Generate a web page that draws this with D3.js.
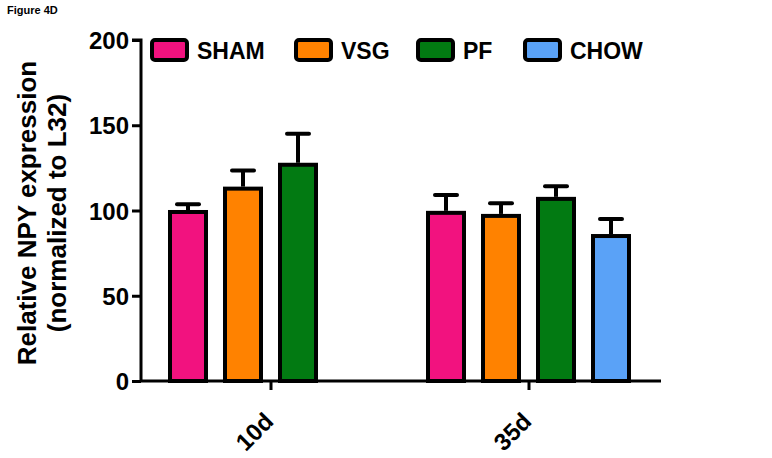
<!DOCTYPE html>
<html><head><meta charset="utf-8">
<script src="https://cdn.jsdelivr.net/npm/d3@7"></script>
<style>body{margin:0;background:#fff}svg{display:block}text{font-family:"Liberation Sans",Arial,sans-serif;font-weight:bold}</style>
</head><body>
<script>
const groups = ["10d", "35d"];
const series = ["SHAM", "VSG", "PF", "CHOW"];
const colors = ["#f2127f", "#ff8200", "#027a12", "#5aa2f7"];
const means10d = [100.3, 114, 128, null];
const errs10d = [3.4, 9.5, 17, null];
const means35d = [99.8, 98, 108, 86.2];
const errs35d = [9.3, 6.3, 6.2, 8.8];
const yTicks = [0, 50, 100, 150, 200];

const W = 772, H = 458;
const svg = d3.select("body").append("svg").attr("width", W).attr("height", H);

const y = d3.scaleLinear().domain([0, 200]).range([381, 40]);
const xg = d3.scalePoint().domain(groups).range([270.5, 528.5]);
const xs = d3.scaleBand().domain(series).range([-110, 110]).paddingInner(15/55).paddingOuter(7.5/55);

const data = [];
groups.forEach((g, gi) => {
  const m = gi === 0 ? means10d : means35d;
  const e = gi === 0 ? errs10d : errs35d;
  series.forEach((s, si) => {
    if (m[si] != null) data.push({g, s, v: m[si], e: e[si], c: colors[si]});
  });
});

svg.append("text").attr("x", 7).attr("y", 14).attr("font-size", 11).text("Figure 4D");

// error bars (behind bars)
const eg = svg.append("g");
data.forEach(d => {
  const cx = xg(d.g) + xs(d.s) + xs.bandwidth()/2;
  eg.append("line").attr("x1", cx).attr("x2", cx).attr("y1", y(d.v)).attr("y2", y(d.v + d.e))
    .attr("stroke", "#000").attr("stroke-width", 4);
  eg.append("line").attr("x1", cx - 11).attr("x2", cx + 11).attr("y1", y(d.v + d.e)).attr("y2", y(d.v + d.e))
    .attr("stroke", "#000").attr("stroke-width", 4).attr("stroke-linecap", "round");
});

// bars
svg.append("g").selectAll("rect").data(data).join("rect")
  .attr("x", d => xg(d.g) + xs(d.s) + 2)
  .attr("width", xs.bandwidth() - 4)
  .attr("y", d => y(d.v) + 2)
  .attr("height", d => y(0) - y(d.v) - 2)
  .attr("fill", d => d.c)
  .attr("stroke", "#000").attr("stroke-width", 4);

// y axis
const ya = svg.append("g").attr("transform", "translate(141,0)")
  .call(d3.axisLeft(y).tickValues(yTicks).tickSize(9).tickPadding(3));
ya.select(".domain").attr("stroke-width", 3).attr("d", `M-9,${y(200)}H0V${y(0)}`);
ya.selectAll(".tick line").attr("stroke-width", 3);
ya.selectAll(".tick text").attr("font-size", 24).attr("font-family", "Liberation Sans, Arial, sans-serif")
  .attr("font-weight", "bold").attr("fill", "#000").attr("dy", "0.36em");

// x axis
const xa = svg.append("g").attr("transform", `translate(0,${y(0)})`)
  .call(d3.axisBottom(xg).tickSize(9).tickPadding(6));
xa.select(".domain").attr("stroke-width", 3).attr("d", `M141,0H661`);
xa.selectAll(".tick line").attr("stroke-width", 3);
xa.selectAll(".tick text").attr("font-size", 24).attr("font-family", "Liberation Sans, Arial, sans-serif")
  .attr("font-weight", "bold").attr("fill", "#000")
  .attr("text-anchor", "end").attr("x", 0).attr("y", 0).attr("dy", "0.35em")
  .attr("transform", "translate(-2,36) rotate(-45)");

// y title
const yt = svg.append("g").attr("transform", "translate(0,213) rotate(-90)");
yt.append("text").attr("x", 0).attr("y", 36).attr("text-anchor", "middle").attr("font-size", 26).text("Relative NPY expression");
yt.append("text").attr("x", 0).attr("y", 66).attr("text-anchor", "middle").attr("font-size", 26).text("(normalized to L32)");

// legend
const legX = [150, 294, 416, 523];
const txtX = [197, 341, 463, 570];
const leg = svg.append("g");
series.forEach((s, i) => {
  leg.append("rect").attr("x", legX[i] + 2).attr("y", 40).attr("width", 35).attr("height", 20).attr("rx", 3)
    .attr("fill", colors[i]).attr("stroke", "#000").attr("stroke-width", 4);
  leg.append("text").attr("x", txtX[i]).attr("y", 59).attr("font-size", 23).text(s);
});
</script>
</body></html>
